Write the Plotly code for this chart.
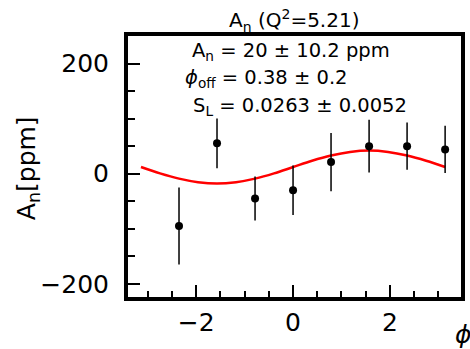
import plotly.graph_objects as go

# data points
phi = [-2.356, -1.571, -0.785, 0.0, 0.785, 1.571, 2.356, 3.142]
an = [-95, 55, -45, -30, 21, 50, 50, 44]
an_err = [70, 45, 40, 45, 53, 48, 43, 43]

# fitted curve
curve_phi = [-3.142, -2.749, -2.356, -1.963, -1.571, -1.178, -0.785, -0.393, 0.0,
             0.393, 0.785, 1.178, 1.571, 1.963, 2.356, 2.749, 3.142]
curve_an = [12, 0.5, -9, -15.5, -18, -15.5, -9, 0.5, 12,
            23.5, 33, 39.5, 42, 39.5, 33, 23.5, 12]

title_text = "A<sub>n</sub> (Q<sup>2</sup>=5.21)"
fit_lines = ["A<sub>n</sub> = 20 ± 10.2 ppm",
             "<i>ϕ</i><sub>off</sub> = 0.38 ± 0.2",
             "S<sub>L</sub> = 0.0263 ± 0.0052"]

W, H = 470, 349
L, R, T, B = 128, 5, 36, 52
pw, ph = W - L - R, H - T - B

fig = go.Figure()
fig.add_trace(go.Scatter(x=curve_phi, y=curve_an, mode="lines",
                         line=dict(color="#ff0000", width=2.5, shape="spline"),
                         showlegend=False, hoverinfo="skip"))
fig.add_trace(go.Scatter(x=phi, y=an, mode="markers",
                         marker=dict(color="black", size=8),
                         error_y=dict(type="data", array=an_err, color="black",
                                      thickness=1.5, width=0),
                         showlegend=False))

font = dict(family="DejaVu Sans", color="black")

fig.update_layout(
    width=W, height=H,
    margin=dict(l=L, r=R, t=T, b=B),
    paper_bgcolor="white", plot_bgcolor="white",
    font=dict(family="DejaVu Sans", color="black", size=25),
    xaxis=dict(range=[-3.41, 3.47], dtick=2, tick0=0, ticks="inside", ticklen=12,
               tickwidth=1.5, tickcolor="black", showline=True, linewidth=4,
               linecolor="black", mirror=True, showgrid=False, zeroline=False,
               tickfont=dict(size=25, family="DejaVu Sans"), ticklabelstandoff=0,
               minor=dict(dtick=0.5, tick0=0, ticks="inside", ticklen=6,
                          tickwidth=1.5, tickcolor="black", showgrid=False)),
    yaxis=dict(range=[-224, 250], dtick=200, tick0=0, ticks="inside", ticklen=12,
               tickwidth=1.5, tickcolor="black", showline=True, linewidth=4,
               linecolor="black", mirror=True, showgrid=False, zeroline=False,
               tickfont=dict(size=25, family="DejaVu Sans"), ticklabelstandoff=10,
               minor=dict(dtick=50, tick0=0, ticks="inside", ticklen=7,
                          tickwidth=1.5, tickcolor="black", showgrid=False)),
)

def px_to_paper_x(px):
    return (px - L) / pw

def px_to_paper_y(py):
    return (H - B - py) / ph

anns = []
anns.append(dict(text=title_text, x=px_to_paper_x(296), y=px_to_paper_y(21),
                 xref="paper", yref="paper", xanchor="center", yanchor="middle",
                 showarrow=False, font=dict(size=20, **font)))
anns.append(dict(text="A<sub>n</sub>[ppm]", x=px_to_paper_x(27), y=px_to_paper_y(168),
                 xref="paper", yref="paper", xanchor="center", yanchor="middle",
                 textangle=-90, showarrow=False, font=dict(size=25, **font)))
anns.append(dict(text="<i>ϕ</i>", x=px_to_paper_x(457), y=px_to_paper_y(334),
                 xref="paper", yref="paper", xanchor="left", yanchor="middle",
                 showarrow=False, font=dict(size=25, **font)))
for txt, lx, cy in zip(fit_lines, [191, 184, 192], [52, 79, 106]):
    anns.append(dict(text=txt, x=px_to_paper_x(lx), y=px_to_paper_y(cy),
                     xref="paper", yref="paper", xanchor="left", yanchor="middle",
                     showarrow=False, font=dict(size=19.5, **font)))
fig.update_layout(annotations=anns)

fig.write_html("out.html")
